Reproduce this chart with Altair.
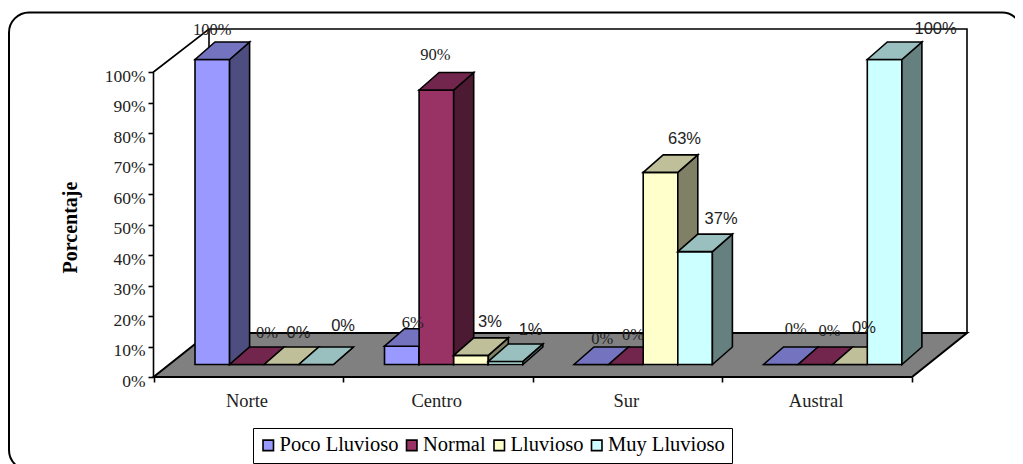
import altair as alt
import pandas as pd

CATEGORIES = ["Norte", "Centro", "Sur", "Austral"]
SERIES = ["Poco Lluvioso", "Normal", "Lluvioso", "Muy Lluvioso"]
VALUES = {
    "Poco Lluvioso": [100, 6, 0, 0],
    "Normal": [0, 90, 0, 0],
    "Lluvioso": [0, 3, 63, 0],
    "Muy Lluvioso": [0, 1, 37, 100],
}
TICKS = [0, 10, 20, 30, 40, 50, 60, 70, 80, 90, 100]

FRONT = ["#9999FF", "#993366", "#FFFFCC", "#CCFFFF"]
TOP = ["#7373BF", "#73264D", "#BFBF99", "#99BFBF"]
SIDE = ["#4D4D80", "#4D1A33", "#808066", "#668080"]

W, H = 1007, 456
PX_PER = 3.05
Y0 = 377 - 8


def px(x):
    return x - 8


def v(y_page):
    return (Y0 - (y_page - 8)) / PX_PER


X = alt.Scale(domain=[0, W], range=[0, W], nice=False, zero=False)
Y = alt.Scale(domain=[(Y0 - H) / PX_PER, Y0 / PX_PER], range=[H, 0], nice=False, zero=False)
X_AXIS = alt.Axis(
    values=[px(153.5 + i * 189.5) for i in range(5)], labels=False, title=None, grid=False,
    domain=False, ticks=True, tickSize=5, tickWidth=1.6, tickColor="black", orient="bottom",
    offset=-(H - Y0))
Y_AXIS = alt.Axis(
    values=TICKS, labelExpr="datum.value + '%'", title="Porcentaje", grid=False, domain=False,
    orient="left", offset=-145, tickSize=5, tickWidth=1.6, tickColor="black",
    labelFont="Liberation Serif", labelFontSize=17.5, labelColor="#222222", labelPadding=3, labelOffset=4,
    titleFont="Liberation Serif", titleFontSize=20, titleFontWeight="bold", titleColor="black",
    titleX=-73, titleY=219)
xq = alt.X("x:Q", scale=X, axis=X_AXIS)
yq = alt.Y("y:Q", scale=Y, axis=Y_AXIS)
y2q = alt.Y2("y2:Q")

BASE = v(364.5)
DY = 17.5 / PX_PER
DX = 20
BAR_W = 34.6
GROUP_X = [195, 384.5, 574, 763.5]


def bar_x(g, s):
    return px(GROUP_X[g] + s * BAR_W)


def faces(s):
    name = SERIES[s]
    front, side, top = [], [], []
    for g, cat in enumerate(CATEGORIES):
        val = VALUES[name][g]
        a, b = bar_x(g, s), bar_x(g, s) + BAR_W
        t = BASE + val
        key = cat
        front += [dict(k=key, serie=name, x=a, y=t, y2=BASE), dict(k=key, serie=name, x=b, y=t, y2=BASE)]
        side += [dict(k=key, x=b, y=t, y2=BASE), dict(k=key, x=b + DX, y=t + DY, y2=BASE + DY)]
        top += [
            dict(k=key, x=a, y=t, y2=t),
            dict(k=key, x=a + DX, y=t + DY, y2=t),
            dict(k=key, x=b, y=t + DY, y2=t),
            dict(k=key, x=b + DX, y=t + DY, y2=t + DY),
        ]
    return pd.DataFrame(front), pd.DataFrame(side), pd.DataFrame(top)


SW = 1.6
layers = []

# frame
frame = pd.DataFrame([dict(x=px(9), x2=px(1022), y=v(12.5), y2=v(470))])
layers.append(
    alt.Chart(frame).mark_rect(fill="transparent", stroke="black", strokeWidth=2, cornerRadius=20, clip=False).encode(
        x=xq, x2="x2:Q", y=yq, y2="y2:Q",
    )
)

# floor
floor = pd.DataFrame([
    dict(x=px(153.5), y=v(377), y2=v(377)),
    dict(x=px(209), y=v(333), y2=v(377)),
    dict(x=px(912), y=v(333), y2=v(377)),
    dict(x=px(967), y=v(333), y2=v(333)),
])
layers.append(alt.Chart(floor).mark_area(color="#808080", stroke="black", strokeWidth=2, opacity=1).encode(x=xq, y=yq, y2=y2q))

# walls
walls = pd.DataFrame([
    dict(seg="a", o=0, x=px(153.5), y=v(377)),
    dict(seg="a", o=1, x=px(153.5), y=v(72)),
    dict(seg="a", o=2, x=px(209), y=v(29)),
    dict(seg="a", o=3, x=px(967), y=v(29)),
    dict(seg="a", o=4, x=px(967), y=v(333)),
    dict(seg="b", o=0, x=px(209), y=v(29)),
    dict(seg="b", o=1, x=px(209), y=v(333)),
])
layers.append(alt.Chart(walls).mark_line(color="black", strokeWidth=1.6).encode(x=xq, y=yq, detail="seg:N", order="o:Q"))

color = alt.Color("serie:N", scale=alt.Scale(domain=SERIES, range=FRONT), legend=alt.Legend(
    title=None, orient="none", legendX=px(253), legendY=px(428), direction="horizontal", columns=4,
    symbolType="square", symbolSize=110, symbolStrokeColor="black", symbolStrokeWidth=1.6, symbolOpacity=1,
    symbolOffset=-2,
    labelFont="Liberation Serif", labelFontSize=20.5, labelColor="black", labelOffset=1, labelLimit=200,
    columnPadding=3.5, padding=7, strokeColor="black", fillColor="white", cornerRadius=0,
))

for s in range(4):
    fr, si, to = faces(s)
    layers.append(alt.Chart(fr).mark_area(stroke="black", strokeWidth=SW, opacity=1).encode(x=xq, y=yq, y2=y2q, detail="k:N", color=color))
    layers.append(alt.Chart(si).mark_area(color=SIDE[s], stroke="black", strokeWidth=SW, opacity=1).encode(x=xq, y=yq, y2=y2q, detail="k:N"))
    layers.append(alt.Chart(to).mark_area(color=TOP[s], stroke="black", strokeWidth=SW, opacity=1).encode(x=xq, y=yq, y2=y2q, detail="k:N"))

# value labels: anchored on the bar's centre and its top, with the hand nudges of the original
NUDGE_X = [[0, 11, 11, 15], [20, -1, 7, 14], [17, 19, 24, 14], [27, 25, 26, 51]]
NUDGE_Y = [[-12, -6, -8, -18], [-14, -18, -12, -16], [-14, -16, -16, -19], [-21, -14, -15, -13]]
for s, font in enumerate(["Liberation Serif", "Liberation Serif", "Liberation Sans", "Liberation Sans"]):
    rows = []
    for g in range(4):
        val = VALUES[SERIES[s]][g]
        rows.append(dict(
            x=bar_x(g, s) + BAR_W / 2 + NUDGE_X[s][g],
            y=BASE + val + DY - NUDGE_Y[s][g] / PX_PER,
            t=f"{val}%",
        ))
    layers.append(alt.Chart(pd.DataFrame(rows)).mark_text(
        font=font, fontSize=16.5, color="#222222", baseline="middle", align="center"
    ).encode(x=xq, y=yq, text="t:N"))

# category labels
cats = pd.DataFrame([dict(x=px(247 + i * 189.7), y=v(401), t=c) for i, c in enumerate(CATEGORIES)])
layers.append(alt.Chart(cats).mark_text(font="Liberation Serif", fontSize=18.5, color="#222222", baseline="middle").encode(x=xq, y=yq, text="t:N"))

chart = alt.layer(*layers).resolve_scale(color="shared").properties(
    width=W, height=H, padding=0, autosize=alt.AutoSizeParams(type="none"),
).configure_view(stroke=None)

chart.save("out.html", embed_options={"renderer": "svg", "actions": False})
